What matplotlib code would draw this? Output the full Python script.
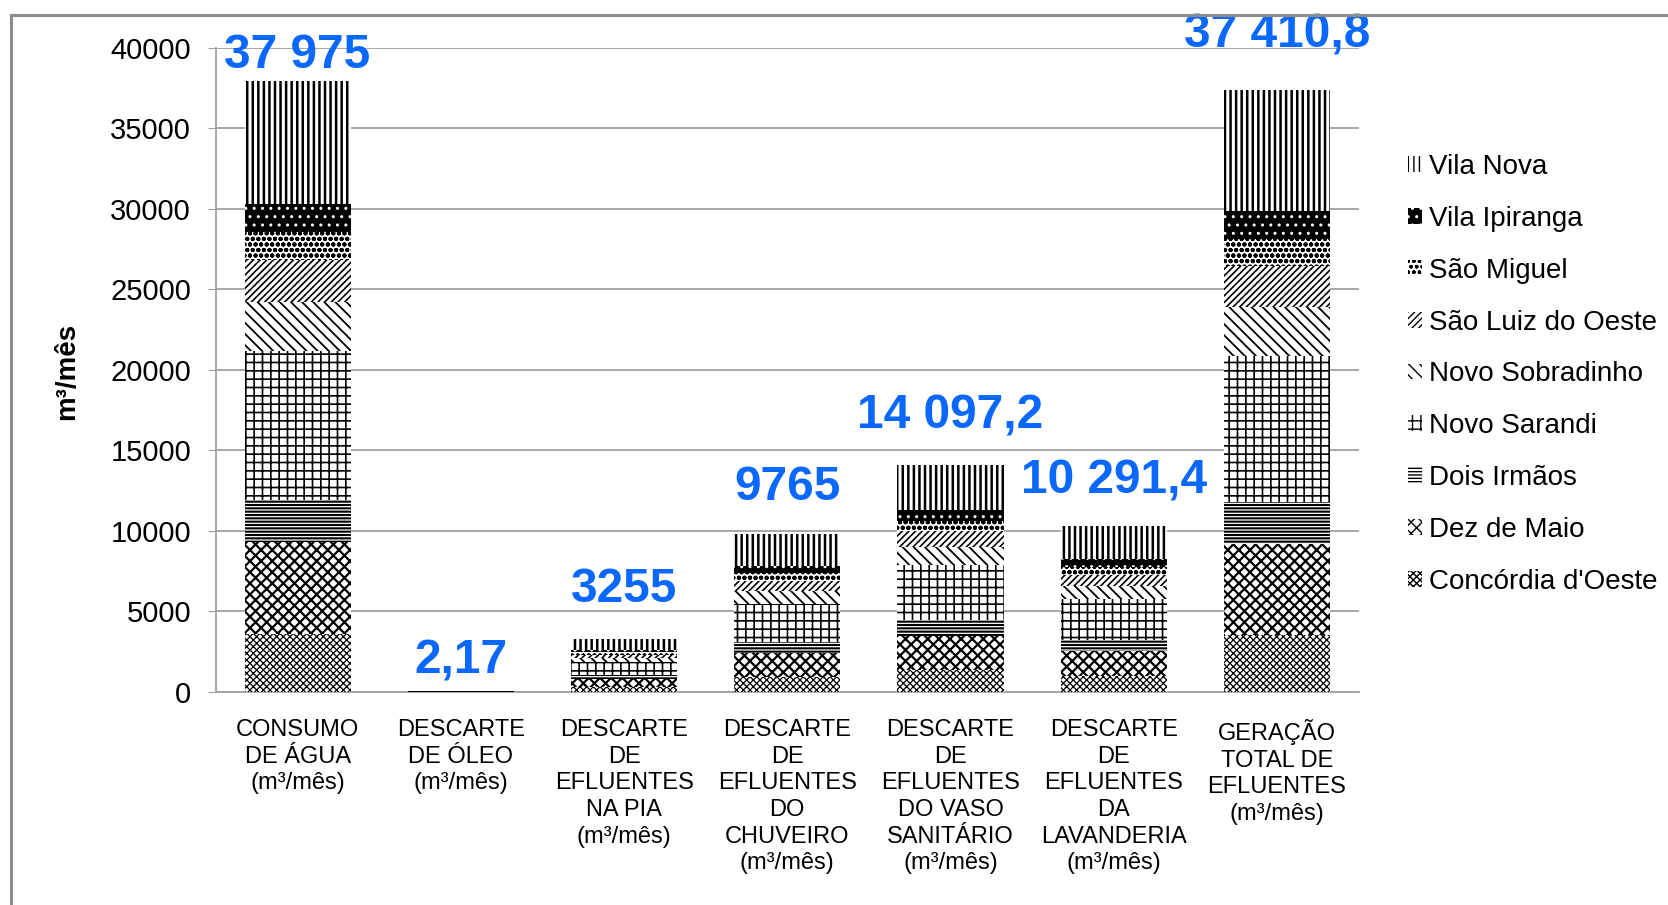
import matplotlib
matplotlib.use("Agg")
import matplotlib.pyplot as plt
from matplotlib.lines import Line2D
import numpy as np

plt.rcParams['font.family'] = ['Liberation Sans', 'DejaVu Sans']

categories = ["CONSUMO\nDE ÁGUA\n(m³/mês)",
              "DESCARTE\nDE ÓLEO\n(m³/mês)",
              "DESCARTE\nDE\nEFLUENTES\nNA PIA\n(m³/mês)",
              "DESCARTE\nDE\nEFLUENTES\nDO\nCHUVEIRO\n(m³/mês)",
              "DESCARTE\nDE\nEFLUENTES\nDO VASO\nSANITÁRIO\n(m³/mês)",
              "DESCARTE\nDE\nEFLUENTES\nDA\nLAVANDERIA\n(m³/mês)",
              "GERAÇÃO\nTOTAL DE\nEFLUENTES\n(m³/mês)"]

# m3/mes por bairro, na ordem das categorias
concordia   = [3550, 0.20, 304, 913, 1318, 962, 3497]
dez_de_maio = [5765, 0.33, 494, 1482, 2140, 1562, 5678]
dois_irmaos = [2614, 0.15, 224, 672, 970, 708, 2574]
novo_sarandi = [9213, 0.53, 790, 2369, 3420, 2497, 9077]
novo_sobradinho = [3097, 0.18, 265, 796, 1150, 839, 3050]
sao_luiz    = [2588, 0.15, 222, 665, 961, 701, 2549]
sao_miguel  = [1726, 0.10, 148, 444, 641, 468, 1701]
vila_ipiranga = [1777, 0.10, 152, 457, 660, 482, 1751]
vila_nova   = [7645, 0.43, 656, 1967, 2837.2, 2072.4, 7533.8]

totals = [37975, 2.17, 3255, 9765, 14097.2, 10291.4, 37410.8]
total_labels = ["37 975", "2,17", "3255", "9765", "14 097,2", "10 291,4", "37 410,8"]

series = [
    ("Concórdia d'Oeste", concordia, dict(hatch='xxxxx', hlw=0.9)),
    ("Dez de Maio", dez_de_maio, dict(hatch='xxx', hlw=1.6)),
    ("Dois Irmãos", dois_irmaos, dict(hatch='-----', hlw=1.5)),
    ("Novo Sarandi", novo_sarandi, dict(hatch='++', hlw=1.2)),
    ("Novo Sobradinho", novo_sobradinho, dict(hatch='\\\\\\', hlw=1.3)),
    ("São Luiz do Oeste", sao_luiz, dict(hatch='/////', hlw=1.2)),
    ("São Miguel", sao_miguel, dict(hatch='ooo', hlw=1.4)),
    ("Vila Ipiranga", vila_ipiranga, dict(hatch='..', hlw=1.0, fc='black', hc='white')),
    ("Vila Nova", vila_nova, dict(hatch='|||', hlw=1.8)),
]

fig = plt.figure(figsize=(16.68, 9.05), dpi=100)
ax = fig.add_axes([0.1295, 0.2359, 0.685, 0.7111])

x = np.arange(len(categories))
bottom = np.zeros(len(categories))
handles = []
for name, vals, st in series:
    with plt.rc_context({'hatch.linewidth': st['hlw']}):
        bars = ax.bar(x, vals, width=0.65, bottom=bottom,
                      color=st.get('fc', 'white'), edgecolor=st.get('hc', 'black'),
                      linewidth=0, hatch=st['hatch'], label=name, zorder=3)
        for b in bars:
            if hasattr(b, 'set_hatch_linewidth'):
                b.set_hatch_linewidth(st['hlw'])
    handles.append(bars)
    bottom += np.array(vals)

offsets = [18, 22, 36, 34, 35, 32, 39]  # points above bar top
for xi, tot, lab, off in zip(x, totals, total_labels, offsets):
    ax.annotate(lab, (xi, tot), xytext=(0, off), textcoords='offset points',
                ha='center', va='center', fontsize=34.5, fontweight='bold',
                color='#0a68ff', zorder=5, annotation_clip=False)

ax.set_ylim(0, 40000)
ax.set_xlim(-0.5, len(categories) - 0.5)
ax.set_yticks(range(0, 40001, 5000))
ax.grid(axis='y', color='#a0a0a0', linewidth=1.3, zorder=0)
ax.set_axisbelow(True)
for s in ['top', 'right']:
    ax.spines[s].set_visible(False)
for s in ['left', 'bottom']:
    ax.spines[s].set_color('#a0a0a0')
    ax.spines[s].set_linewidth(1.3)
ax.tick_params(axis='y', labelsize=21, length=6, color='#a0a0a0', pad=12)
ax.tick_params(axis='x', length=0, pad=20)
ax.set_xticks(x)
ax.set_xticklabels(categories, fontsize=17, linespacing=1.27, va='top')

fig.text(67 / 1668, 0.59, "m³/mês", rotation=90, fontsize=20, fontweight='bold',
         ha='center', va='center')

leg = fig.legend(handles[::-1], [s[0] for s in series][::-1],
                 loc='upper left', bbox_to_anchor=(1408 / 1668, 1 - 154 / 905),
                 frameon=False, fontsize=20, handlelength=0.5, handleheight=0.5,
                 handletextpad=0.25, labelspacing=0.93, borderpad=0, borderaxespad=0)

# moldura cinza
fig.add_artist(Line2D([10.6 / 1668, 1], [1 - 15 / 905] * 2, color='#8c8c8c', linewidth=2.2))
fig.add_artist(Line2D([10.6 / 1668] * 2, [0, 1 - 15 / 905], color='#8c8c8c', linewidth=2.2))

fig.savefig("out.png", dpi=100)
